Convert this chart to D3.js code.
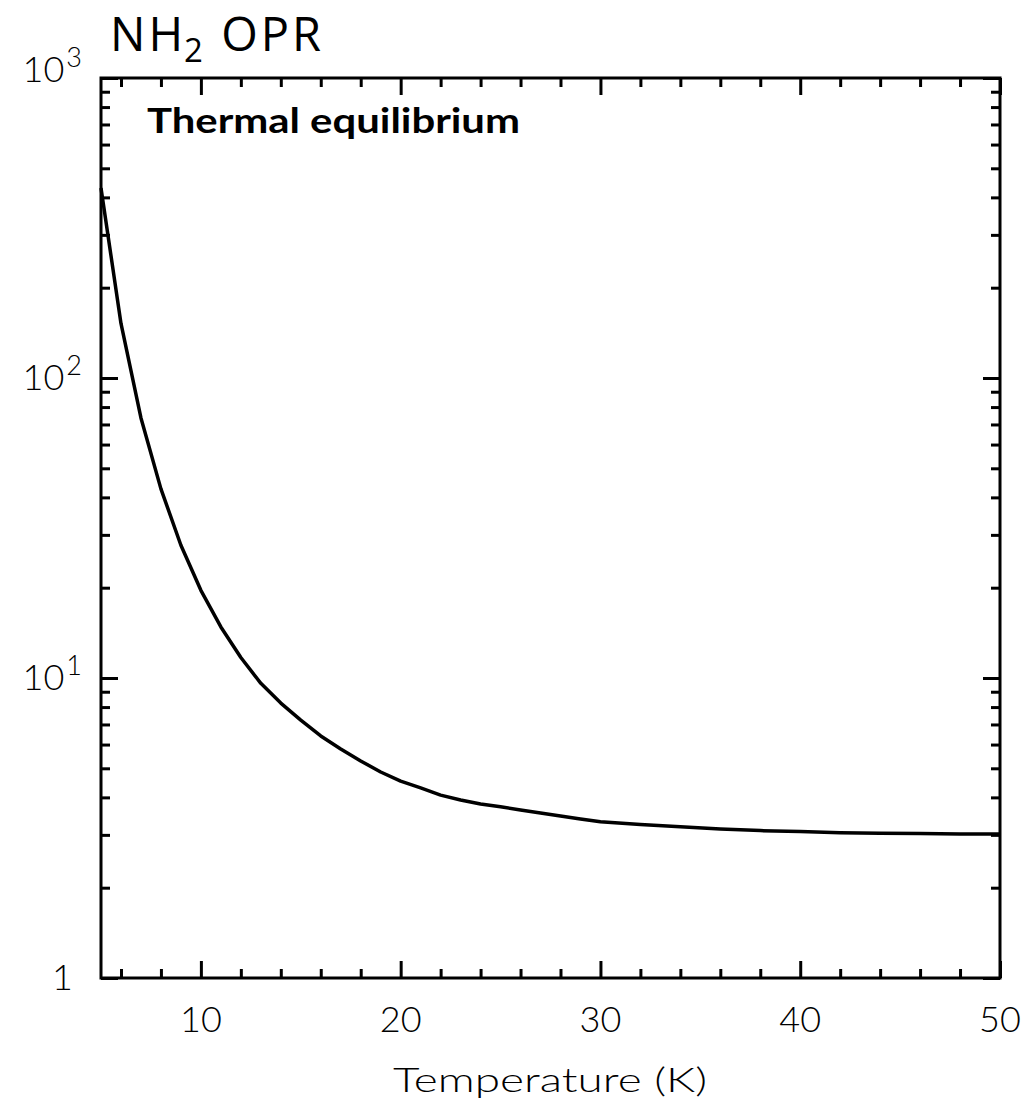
<!DOCTYPE html>
<html>
<head>
<meta charset="utf-8">
<script src="https://cdn.jsdelivr.net/npm/d3@7"></script>
<style>
  html, body { margin: 0; padding: 0; background: #fff; }
  svg { display: block; }
</style>
</head>
<body>
<svg id="chart" width="1031" height="1107"></svg>
<script>
// NH2 ortho-to-para ratio in thermal equilibrium versus gas temperature
const temperature = [5, 6, 7, 8, 9, 10, 11, 12, 13, 14, 15, 16, 17, 18, 19, 20,
  21, 22, 23, 24, 25, 26, 27, 28, 29, 30, 32, 34, 36, 38, 40, 42, 44, 46, 48, 50];
const opr = [430, 152, 73.6, 42.7, 27.7, 19.6, 14.8, 11.7, 9.6, 8.25, 7.24, 6.41,
  5.8, 5.29, 4.86, 4.53, 4.3, 4.07, 3.92, 3.8, 3.72, 3.63, 3.55, 3.47, 3.39, 3.32,
  3.25, 3.19, 3.14, 3.10, 3.08, 3.05, 3.035, 3.03, 3.02, 3.02];

const xMajor = [10, 20, 30, 40, 50];
const xMinor = [6, 8, 12, 14, 16, 18, 22, 24, 26, 28, 32, 34, 36, 38, 42, 44, 46, 48];
const yMajor = [1, 10, 100, 1000];
const yMajorExp = ["", "1", "2", "3"];
const yMinor = [2, 3, 4, 5, 6, 7, 8, 9, 20, 30, 40, 50, 60, 70, 80, 90,
  200, 300, 400, 500, 600, 700, 800, 900];

const titleMain = "NH";
const titleSub = "2";
const titleRest = " OPR";
const panelLabel = "Thermal  equilibrium";
const xTitle = "Temperature  (K)";

const svg = d3.select("#chart");
const plotLeft = 101, plotRight = 1000, plotTop = 78, plotBottom = 978;

const x = d3.scaleLinear().domain([5, 50]).range([plotLeft, plotRight]);
const y = d3.scaleLog().domain([1, 1000]).range([plotBottom, plotTop]);

const tickFont = "Lato, 'DejaVu Sans', sans-serif";

function styleAxis(g) {
  g.select(".domain").remove();
  g.selectAll(".tick line").attr("stroke", "#000").attr("stroke-width", 3);
  g.selectAll(".tick text").remove();
}

// Inward-pointing ticks on all four sides
svg.append("g").attr("transform", `translate(0,${plotBottom})`)
  .call(d3.axisBottom(x).tickValues(xMajor).tickSize(-17).tickFormat("")).call(styleAxis);
svg.append("g").attr("transform", `translate(0,${plotBottom})`)
  .call(d3.axisBottom(x).tickValues(xMinor).tickSize(-9).tickFormat("")).call(styleAxis);
svg.append("g").attr("transform", `translate(0,${plotTop})`)
  .call(d3.axisTop(x).tickValues(xMajor).tickSize(-17).tickFormat("")).call(styleAxis);
svg.append("g").attr("transform", `translate(0,${plotTop})`)
  .call(d3.axisTop(x).tickValues(xMinor).tickSize(-9).tickFormat("")).call(styleAxis);
svg.append("g").attr("transform", `translate(${plotLeft},0)`)
  .call(d3.axisLeft(y).tickValues(yMajor).tickSize(-17).tickFormat("")).call(styleAxis);
svg.append("g").attr("transform", `translate(${plotLeft},0)`)
  .call(d3.axisLeft(y).tickValues(yMinor).tickSize(-9).tickFormat("")).call(styleAxis);
svg.append("g").attr("transform", `translate(${plotRight},0)`)
  .call(d3.axisRight(y).tickValues(yMajor).tickSize(-17).tickFormat("")).call(styleAxis);
svg.append("g").attr("transform", `translate(${plotRight},0)`)
  .call(d3.axisRight(y).tickValues(yMinor).tickSize(-9).tickFormat("")).call(styleAxis);

// Frame
svg.append("rect")
  .attr("x", plotLeft).attr("y", plotTop)
  .attr("width", plotRight - plotLeft).attr("height", plotBottom - plotTop)
  .attr("fill", "none").attr("stroke", "#000").attr("stroke-width", 3);

// Curve
const line = d3.line().x((d, i) => x(temperature[i])).y(d => y(d));
svg.append("path")
  .datum(opr)
  .attr("d", line)
  .attr("fill", "none")
  .attr("stroke", "#000")
  .attr("stroke-width", 3.5)
  .attr("stroke-linejoin", "round");

// X tick labels
svg.append("g").selectAll("text")
  .data(xMajor).join("text")
  .attr("x", d => x(d))
  .attr("y", plotBottom + 54)
  .attr("text-anchor", "middle")
  .attr("font-family", tickFont)
  .attr("font-weight", 300)
  .attr("font-size", 36)
  .text(d => d);

// Y tick labels (powers of ten)
const yl = svg.append("g");
yMajor.forEach((v, i) => {
  const ty = y(v) + (v === 1000 ? -8 : 0);
  const t = yl.append("text")
    .attr("x", yMajorExp[i] === "" ? 73 : 82)
    .attr("y", ty + 12)
    .attr("text-anchor", "end")
    .attr("font-family", tickFont)
    .attr("font-weight", 300)
    .attr("font-size", 36);
  if (yMajorExp[i] === "") {
    t.text("1");
  } else {
    t.append("tspan").text("10");
    t.append("tspan").attr("font-size", 27).attr("dy", -15).attr("dx", 2).text(yMajorExp[i]);
  }
});

// Axis title
svg.append("text")
  .attr("x", (393 + 707) / 2)
  .attr("y", 1092)
  .attr("text-anchor", "middle")
  .attr("font-family", tickFont)
  .attr("font-weight", 300)
  .attr("font-size", 34)
  .attr("textLength", 314)
  .attr("lengthAdjust", "spacingAndGlyphs")
  .text(xTitle);

// Panel label
svg.append("text")
  .attr("x", 147)
  .attr("y", 133)
  .attr("font-family", "Lato, 'DejaVu Sans', sans-serif")
  .attr("font-weight", 700)
  .attr("font-size", 35)
  .attr("textLength", 373)
  .attr("lengthAdjust", "spacingAndGlyphs")
  .text(panelLabel);

// Title
const title = svg.append("text")
  .attr("x", 110)
  .attr("y", 51)
  .attr("font-family", "'Open Sans', 'Noto Sans', sans-serif")
  .attr("font-size", 47)
  .attr("letter-spacing", 3)
  .attr("fill", "#000");
title.append("tspan").text(titleMain);
title.append("tspan").attr("font-size", 33).attr("dy", 11).attr("dx", -2).text(titleSub);
title.append("tspan").attr("dy", -11).text(titleRest);
</script>
</body>
</html>
